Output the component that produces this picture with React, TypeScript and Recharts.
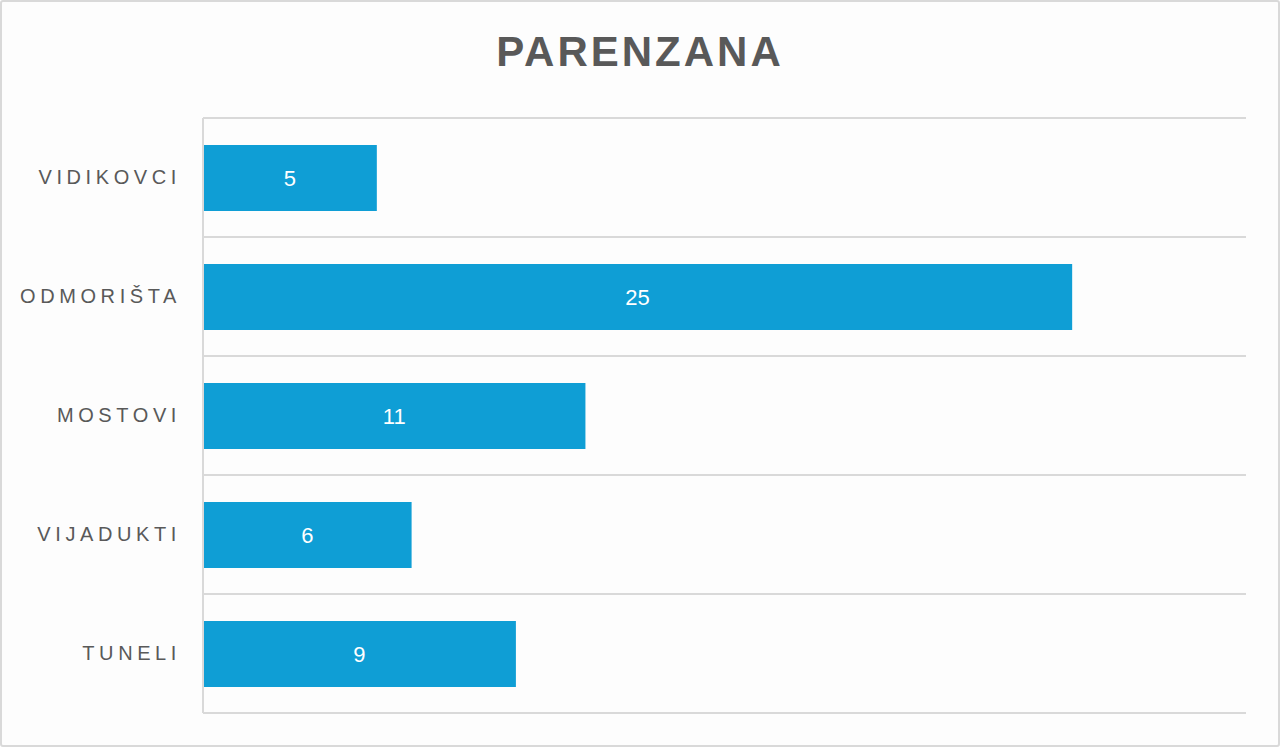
import { BarChart, Bar, XAxis, YAxis, CartesianGrid, LabelList } from 'recharts';

const categories = ['VIDIKOVCI', 'ODMORIŠTA', 'MOSTOVI', 'VIJADUKTI', 'TUNELI'];
const counts = [5, 25, 11, 6, 9];
const xDomain = [0, 30];

const data = categories.map((name, i) => ({ name, value: counts[i] }));

const FONT = '"Liberation Sans", Arial, sans-serif';
const GRAY = '#595959';
const GRID = '#d9d9d9';
const BAR = '#0f9ed5';

function CategoryTick({ x, y, payload }: any) {
  return (
    <text
      x={x - 14}
      y={y}
      dy={6}
      textAnchor="end"
      fill={GRAY}
      fontFamily={FONT}
      fontSize={20}
      letterSpacing={4.6}
    >
      {payload.value}
    </text>
  );
}

export default function App() {
  return (
    <div
      style={{
        position: 'absolute',
        left: 0,
        top: 0,
        width: 1280,
        height: 747,
        boxSizing: 'border-box',
        border: `2px solid ${GRID}`,
        borderRadius: 3,
        background: '#fdfdfd',
        overflow: 'hidden',
      }}
    >
      <div
        style={{
          position: 'absolute',
          top: 24,
          left: 0,
          width: '100%',
          textAlign: 'center',
          fontFamily: FONT,
          fontWeight: 700,
          fontSize: 42,
          letterSpacing: 3,
          color: GRAY,
          lineHeight: '52px',
        }}
      >
        PARENZANA
      </div>
      <div style={{ position: 'absolute', left: -2, top: -2 }}>
        <BarChart
          width={1280}
          height={747}
          data={data}
          layout="vertical"
          margin={{ top: 118, right: 34, bottom: 34, left: 0 }}
        >
          <CartesianGrid
            vertical={false}
            stroke={GRID}
            strokeWidth={2}
            horizontalCoordinatesGenerator={({ offset }: any) =>
              categories
                .concat([''])
                .map((_, i) => offset.top + (i * offset.height) / categories.length)
            }
          />
          <XAxis type="number" domain={xDomain} hide />
          <YAxis
            type="category"
            dataKey="name"
            width={203}
            axisLine={{ stroke: GRID, strokeWidth: 2 }}
            tickLine={false}
            tick={<CategoryTick />}
            interval={0}
          />
          <Bar dataKey="value" fill={BAR} barSize={66} isAnimationActive={false}>
            <LabelList
              dataKey="value"
              position="center"
              fill="#ffffff"
              fontFamily={FONT}
              fontSize={22}
            />
          </Bar>
        </BarChart>
      </div>
    </div>
  );
}
